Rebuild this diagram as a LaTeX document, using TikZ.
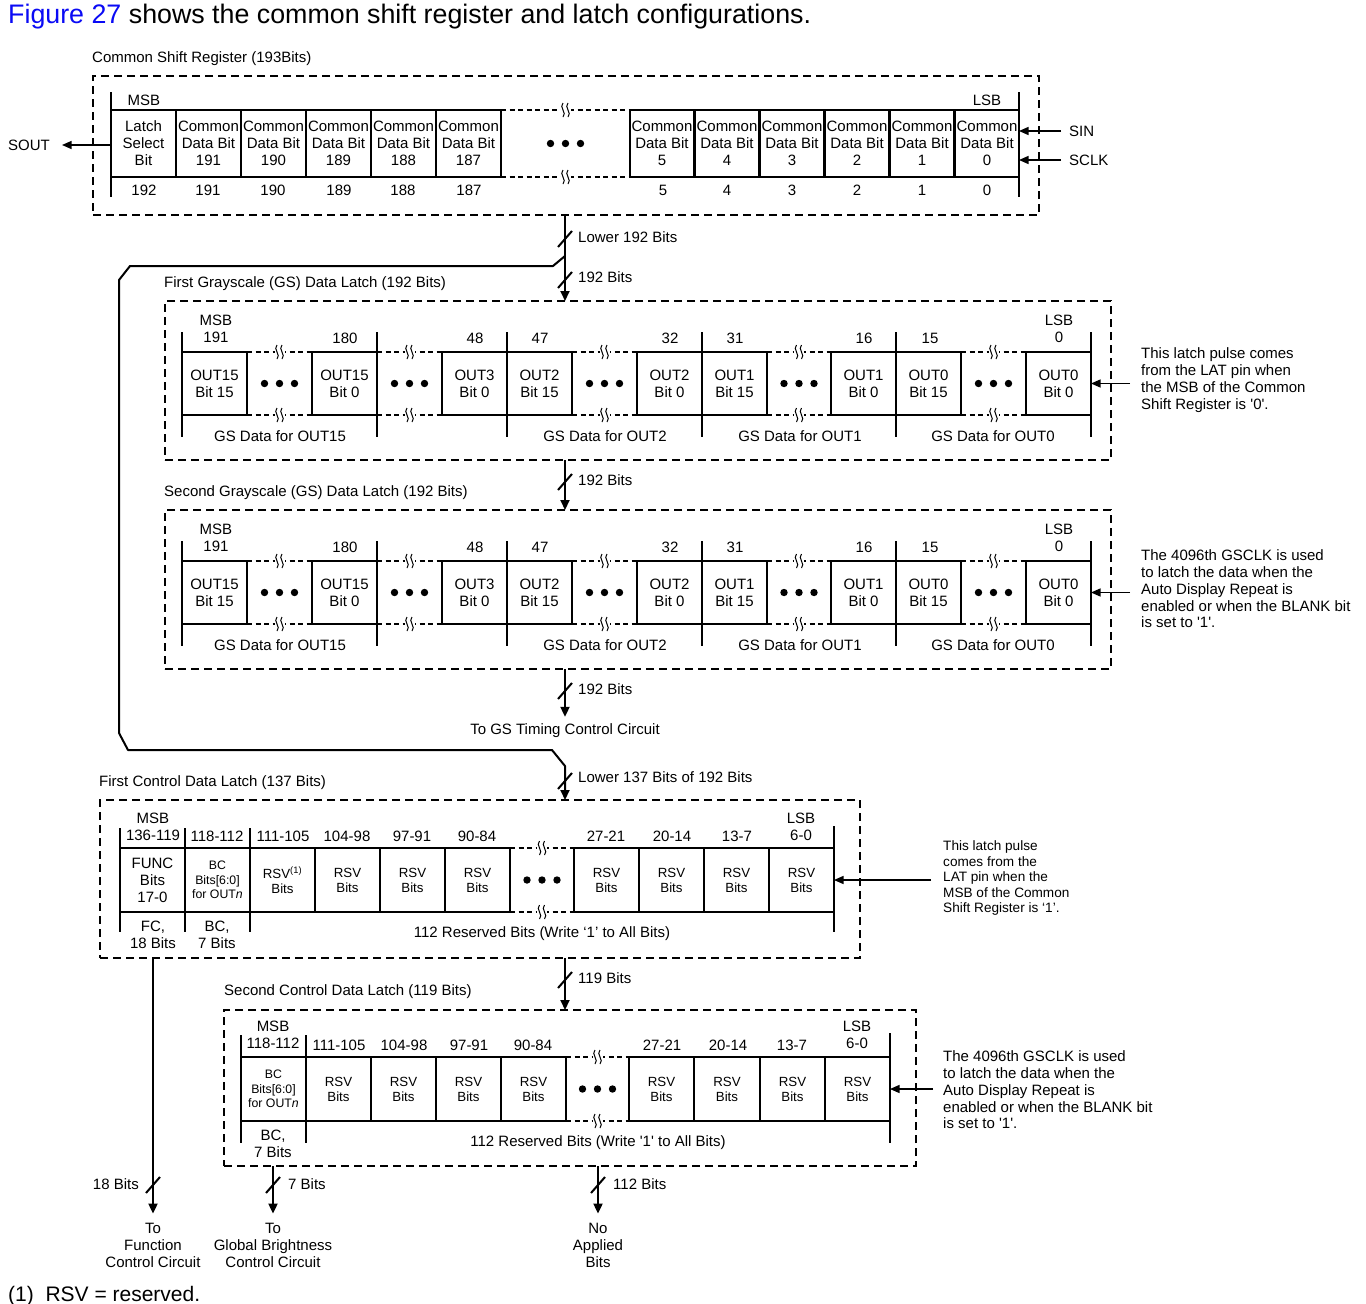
\documentclass[tikz,border=0pt]{standalone}
\usepackage{fontspec}
\setmainfont{Liberation Sans}
\usetikzlibrary{arrows.meta,calc}
\definecolor{figblue}{RGB}{10,10,245}
\newcommand{\fbody}{\fontsize{15}{17}\selectfont}
\newcommand{\fnote}{\fontsize{15}{16.8}\selectfont}
\newcommand{\fsmallnote}{\fontsize{13.6}{15.5}\selectfont}
\newcommand{\frsv}{\fontsize{13.3}{15}\selectfont}
\newcommand{\fbc}{\fontsize{12.3}{14.5}\selectfont}
% cell: name, x1, x2, ytop, ybot, text, font
\newcommand{\rcell}[7]{%
  \pgfmathsetmacro\cw{(#3)-(#2)}\pgfmathsetmacro\ch{(#5)-(#4)}%
  \pgfmathsetmacro\cx{((#2)+(#3))/2}\pgfmathsetmacro\cy{((#4)+(#5))/2}%
  \node[cellbox, minimum width=\cw pt, minimum height=\ch pt, font=#7] (#1) at (\cx,\cy) {#6};%
}
\newcommand{\rsquig}[2]{%
  \draw[sq] (#1-2.5,#2-7) .. controls (#1-7,#2-3) and (#1+2,#2+3) .. (#1-2.5,#2+7);%
  \draw[sq] (#1+2.5,#2-7) .. controls (#1-2,#2-3) and (#1+7,#2+3) .. (#1+2.5,#2+7);%
}
% break: x1, x2, ytop, ybot
\newcommand{\rbrk}[4]{%
  \pgfmathsetmacro\bxm{((#1)+(#2))/2}\pgfmathsetmacro\bym{((#3)+(#4))/2}%
  \draw[brkline] (#1,#3) -- (#2,#3);%
  \draw[brkline] (#1,#4) -- (#2,#4);%
  \fill[white] (\bxm-5,#3-1.2) rectangle (\bxm+5,#3+1.2);%
  \fill[white] (\bxm-5,#4-1.2) rectangle (\bxm+5,#4+1.2);%
  \rsquig{\bxm}{#3}\rsquig{\bxm}{#4}%
  \fill (\bxm-15,\bym) circle[radius=3.7pt];%
  \fill (\bxm,\bym) circle[radius=3.7pt];%
  \fill (\bxm+15,\bym) circle[radius=3.7pt];%
}
\newcommand{\rslash}[2]{\draw[bus] ({#1-7},{#2+8}) -- ({#1+7},{#2-8});}
% GS latch: offset, name, note
\newcommand{\gslatch}[3]{%
  \node[dboxn, minimum width=946pt, minimum height=159pt] (#2) at (638,380.5+#1) {};%
  \foreach \xa/\tx/\nm in {182/{OUT15\\Bit 15}/a,312/{OUT15\\Bit 0}/b,442/{OUT3\\Bit 0}/c,507/{OUT2\\Bit 15}/d,637/{OUT2\\Bit 0}/e,702/{OUT1\\Bit 15}/f,831/{OUT1\\Bit 0}/g,896/{OUT0\\Bit 15}/h,1026/{OUT0\\Bit 0}/i}%
    {\rcell{#2\nm}{\xa}{\xa+65}{352+#1}{415+#1}{\tx}{\fbody}}%
  \foreach \xa/\xb in {247/312,377/442,572/637,767/831,961/1026}%
    {\rbrk{\xa}{\xb}{352+#1}{415+#1}}%
  \foreach \xa in {182,377,507,702,896,1091}%
    {\draw[bar] (\xa,332+#1) -- (\xa,437+#1);}%
  \node[txt] (#2msb) at (216,328.5+#1) {MSB\\191};%
  \node[txt] (#2lsb) at (1059,328.5+#1) {LSB\\0};%
  \foreach \xa/\tx in {345/180,475/48,540/47,670/32,735/31,864/16,930/15}%
    {\node[txt] (#2n\tx) at (\xa,338+#1) {\tx};}%
  \foreach \xa/\tx in {280/15,605/2,800/1,993/0}%
    {\node[txt] (#2d\tx) at (\xa,436+#1) {GS Data for OUT\tx};}%
  \node[ltxt, font=\fnote] (#2note) at (1141,380+#1) {#3};%
  \draw[thinarrow, shorten <=11pt] (#2note.west |- #2i.east) -- (#2i.east);%
}
\begin{document}
\begin{tikzpicture}[x=1pt,y=-1pt,
  txt/.style={inner sep=0pt, font=\fbody, align=center},
  ltxt/.style={inner sep=0pt, font=\fbody, align=left, anchor=west},
  cellbox/.style={draw, rectangle, line width=1.9pt, inner sep=0pt, outer sep=0pt, align=center},
  dboxn/.style={draw, rectangle, line width=1.8pt, dash pattern=on 8pt off 5pt, inner sep=0pt, outer sep=0pt},
  bar/.style={line width=2.4pt},
  brkline/.style={line width=1.6pt, dash pattern=on 5pt off 3.5pt},
  sq/.style={line width=1pt},
  bus/.style={line width=2pt},
  busarrow/.style={line width=2pt, -{Triangle[length=10pt,width=9pt]}},
  thinarrow/.style={line width=1.3pt, -{Triangle[length=9.5pt,width=8pt]}},
]
\fill[white] (0,0) rectangle (1366,1304);
\useasboundingbox (0,0) rectangle (1366,1304);

% title
\node[anchor=base west, inner sep=0pt, font=\fontsize{26.8}{30}\selectfont] (title) at (8,23) {\textcolor{figblue}{Figure 27} shows the common shift register and latch configurations.};

% ---------- common shift register ----------
\node[ltxt] (csrlab) at (92,59) {Common Shift Register (193Bits)};
\node[dboxn, minimum width=946pt, minimum height=139pt] (csr) at (566,145.5) {};
\node[txt] (csrmsb) at (144,100) {MSB};
\node[txt] (csrlsb) at (987,100) {LSB};
\rcell{r192}{111}{176}{110}{177}{Latch\\Select\\Bit}{\fbody}
\foreach \xa/\n in {176/191,241/190,306/189,371/188,436/187}{\rcell{r\n}{\xa}{\xa+65}{110}{177}{Common\\Data Bit\\\n}{\fbody}}
\foreach \xa/\n in {630/5,695/4,760/3,825/2,890/1,955/0}{\rcell{r\n}{\xa}{\xa+64}{110}{177}{Common\\Data Bit\\\n}{\fbody}}
\rbrk{501}{630}{110}{177}
\foreach \xa/\n in {144/192,208/191,273/190,339/189,403/188,469/187,663/5,727/4,792/3,857/2,922/1,987/0}{\node[txt] (rn\n) at (\xa,190) {\n};}
\draw[bar] (111,92) -- (111,197);
\draw[bar] (1019,92) -- (1019,197);
\node[txt] (sout) at (29,145) {SOUT};
\draw[thinarrow, shorten >=12pt] (r192.west |- sout) -- (sout.east);
\node[ltxt] (sin) at (1069,131) {SIN};
\node[ltxt] (sclk) at (1069,160) {SCLK};
\draw[thinarrow, shorten <=8pt] (sin.west) -- (sin.west -| r0.east);
\draw[thinarrow, shorten <=8pt] (sclk.west) -- (sclk.west -| r0.east);

% ---------- GS latches ----------
\node[ltxt] (gs1lab) at (164,284) {First Grayscale (GS) Data Latch (192 Bits)};
\gslatch{0}{ga}{This latch pulse comes\\from the LAT pin when\\the MSB of the Common\\Shift Register is \textquotesingle 0\textquotesingle.}
\node[ltxt] (gs2lab) at (164,493) {Second Grayscale (GS) Data Latch (192 Bits)};
\gslatch{209}{gb}{The 4096th GSCLK is used\\to latch the data when the\\Auto Display Repeat is\\enabled or when the BLANK bit\\is set to \textquotesingle 1\textquotesingle.}

% ---------- control latches ----------
\node[ltxt] (cl1lab) at (99,783) {First Control Data Latch (137 Bits)};
\node[dboxn, minimum width=760pt, minimum height=158pt] (cl1) at (480,879) {};
\node[txt] (c1msb) at (153,827) {MSB\\136-119};
\node[txt] (c1lsb) at (801,827) {LSB\\6-0};
\foreach \xa/\tx [count=\i] in {217/118-112,283/111-105,347/104-98,412/97-91,477/90-84,606/27-21,672/20-14,737/13-7}{\node[txt] (c1h\i) at (\xa,836) {\tx};}
\rcell{c1func}{120}{185}{848}{912}{FUNC\\Bits\\17-0}{\fbody}
\rcell{c1bc}{185}{250}{848}{912}{BC\\Bits[6:0]\\for OUT\textit{n}}{\fbc}
\rcell{c1rsv}{250}{315}{848}{912}{RSV\textsuperscript{(1)}\\Bits}{\frsv}
\foreach \xa in {315,380,445,574,639,704,769}{\rcell{c1r\xa}{\xa}{\xa+65}{848}{912}{RSV\\Bits}{\frsv}}
\rbrk{510}{574}{848}{912}
\foreach \xa in {120,185,250}{\draw[bar] (\xa,828) -- (\xa,932);}
\draw[bar] (834,826) -- (834,932);
\node[txt] (c1fc) at (153,934.5) {FC,\\18 Bits};
\node[txt] (c1bcb) at (217,934.5) {BC,\\7 Bits};
\node[txt] (c1res) at (542,934) {112 Reserved Bits (Write `1' to All Bits)};
\node[ltxt, font=\fsmallnote] (c1note) at (943,878) {This latch pulse\\comes from the\\LAT pin when the\\MSB of the Common\\Shift Register is `1'.};
\draw[thinarrow, shorten <=12pt] (c1note.west |- c1r769.east) -- (c1r769.east);

\node[ltxt] (cl2lab) at (224,992) {Second Control Data Latch (119 Bits)};
\node[dboxn, minimum width=692pt, minimum height=156pt] (cl2) at (570,1088) {};
\node[txt] (c2msb) at (273,1035) {MSB\\118-112};
\node[txt] (c2lsb) at (857,1035) {LSB\\6-0};
\foreach \xa/\tx [count=\i] in {339/111-105,404/104-98,469/97-91,533/90-84,662/27-21,728/20-14,792/13-7}{\node[txt] (c2h\i) at (\xa,1045) {\tx};}
\rcell{c2bc}{241}{306}{1057}{1121}{BC\\Bits[6:0]\\for OUT\textit{n}}{\fbc}
\foreach \xa/\xb in {306/371,371/436,436/501,501/566,629/694,694/760,760/825,825/890}{\rcell{c2r\xa}{\xa}{\xb}{1057}{1121}{RSV\\Bits}{\frsv}}
\rbrk{566}{629}{1057}{1121}
\foreach \xa in {241,306}{\draw[bar] (\xa,1035) -- (\xa,1143);}
\draw[bar] (890,1033) -- (890,1143);
\node[txt] (c2bcb) at (273,1143.5) {BC,\\7 Bits};
\node[txt] (c2res) at (598,1143) {112 Reserved Bits (Write \textquotesingle 1\textquotesingle\ to All Bits)};
\node[ltxt, font=\fnote] (c2note) at (943,1090) {The 4096th GSCLK is used\\to latch the data when the\\Auto Display Repeat is\\enabled or when the BLANK bit\\is set to \textquotesingle 1\textquotesingle.};
\draw[thinarrow, shorten <=10pt] (c2note.west |- c2r825.east) -- (c2r825.east);

% ---------- buses ----------
\coordinate (bx) at (565,0);
\draw[busarrow] (csr.south -| bx) -- (ga.north -| bx);
\rslash{565}{239}
\node[ltxt] (lbl1) at (578,237) {Lower 192 Bits};
\rslash{565}{280}
\node[ltxt] (lbl2) at (578,277) {192 Bits};
\draw[busarrow] (ga.south -| bx) -- (gb.north -| bx);
\rslash{565}{482}
\node[ltxt] (lbl3) at (578,480) {192 Bits};
\node[txt] (tgs) at (565,731) {To GS Timing Control Circuit};
\draw[busarrow, shorten >=7pt] (gb.south -| bx) -- (tgs.north);
\rslash{565}{691}
\node[ltxt] (lbl4) at (578,689) {192 Bits};
\coordinate (byp) at (565,256);
\draw[busarrow, line join=round] (byp) -- (553,266) -- (130,266) -- (119,280) -- (119,733) -- (128,750) -- (552,750) -- (565,766) -- (cl1.north -| bx);
\rslash{565}{781}
\node[ltxt] (lbl5) at (578,777) {Lower 137 Bits of 192 Bits};
\draw[busarrow] (cl1.south -| bx) -- (cl2.north -| bx);
\rslash{565}{980}
\node[ltxt] (lbl6) at (578,978) {119 Bits};

% outputs
\node[txt] (ofc) at (153,1245) {To\\Function\\Control Circuit};
\node[txt] (obc) at (273,1245) {To\\Global Brightness\\Control Circuit};
\node[txt] (ona) at (598,1245) {No\\Applied\\Bits};
\draw[busarrow, shorten >=9pt] (cl1.south -| ofc) -- (ofc.north);
\draw[busarrow, shorten >=9pt] (cl2.south -| obc) -- (obc.north);
\draw[busarrow, shorten >=9pt] (cl2.south -| ona) -- (ona.north);
\rslash{153}{1185}
\node[txt, anchor=east] (lb18) at (139,1184) {18 Bits};
\rslash{273}{1185}
\node[ltxt] (lb7) at (288,1184) {7 Bits};
\rslash{598}{1185}
\node[ltxt] (lb112) at (613,1184) {112 Bits};

% footnote
\node[anchor=base west, inner sep=0pt, font=\fontsize{21}{24}\selectfont] (fn) at (8,1301) {(1)\ \ RSV = reserved.};
\end{tikzpicture}
\end{document}
